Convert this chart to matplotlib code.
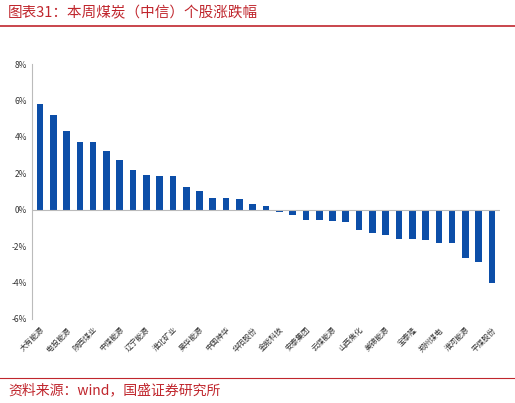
import matplotlib
matplotlib.use("Agg")
import matplotlib.pyplot as plt
from matplotlib.ticker import FuncFormatter

plt.rcParams['font.family'] = ['Noto Sans CJK SC', 'DejaVu Sans']

values = [5.8, 5.2, 4.3, 3.7, 3.7, 3.2, 2.75, 2.2, 1.9, 1.85, 1.85, 1.25, 1.05, 0.65, 0.65, 0.6, 0.3, 0.2,
          -0.15, -0.3, -0.55, -0.55, -0.6, -0.7, -1.1, -1.3, -1.4, -1.6, -1.6, -1.65, -1.8, -1.85, -2.65, -2.85, -4.05]
shown_labels = ["大有能源", "电投能源", "陕西煤业", "中煤能源", "辽宁能源", "淮北矿业", "昊华能源", "中国神华", "华阳股份",
                "金能科技", "安泰集团", "云煤能源", "山西焦化", "美锦能源", "宝泰隆", "郑州煤电", "淮河能源", "平煤股份"]
labels = []
for i in range(len(values)):
    labels.append(shown_labels[i // 2] if i % 2 == 0 else "")

fig = plt.figure(figsize=(5.15, 4.03), dpi=100)
ax = fig.add_axes([32/515, 1-319/403, 468/515, 255/403])
x = list(range(len(values)))
ax.bar(x, values, width=0.5, color='#0c4ea8')
ax.set_ylim(-6, 8)
ax.set_yticks(range(-6, 9, 2))
ax.yaxis.set_major_formatter(FuncFormatter(lambda v, p: f"{int(v)}%"))
ax.set_xlim(-0.6, len(values) - 0.4)
ax.set_xticks(x)
ax.set_xticklabels(labels, rotation=45, ha='right', rotation_mode='anchor', fontsize=5.5, color='#333333')
ax.tick_params(axis='x', length=0, pad=5)
ax.tick_params(axis='y', labelsize=6, length=0, colors='#333333')
for s in ['top', 'right', 'bottom']:
    ax.spines[s].set_visible(False)
ax.spines['left'].set_color('#bbbbbb')
ax.axhline(0, color='#bbbbbb', lw=0.8)

fig.text(8/515, 1-13/403, "图表31：本周煤炭（中信）个股涨跌幅", color='#c0262d', fontsize=10.5,
         fontstyle='italic', va='center', ha='left')
fig.add_artist(plt.Line2D([0, 1], [1-26/403, 1-26/403], color='#c0262d', lw=1.2))
fig.add_artist(plt.Line2D([0, 1], [1-378/403, 1-378/403], color='#c0262d', lw=0.8))
fig.text(8/515, 1-390/403, "资料来源：wind，国盛证券研究所", color='#c0262d', fontsize=10,
         fontstyle='italic', va='center', ha='left')
fig.savefig("out.png", dpi=100)
